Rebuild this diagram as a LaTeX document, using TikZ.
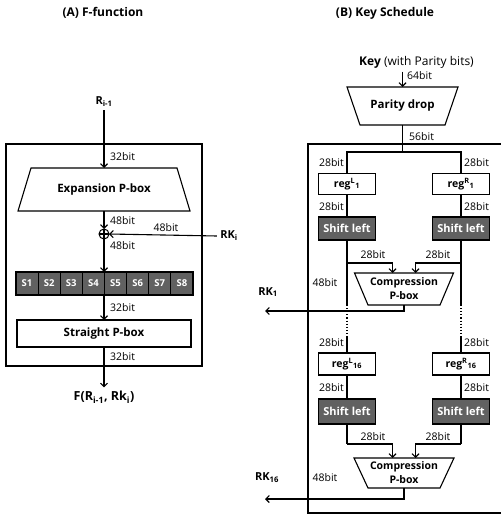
\documentclass[tikz,border=0pt]{standalone}
\usepackage{fontspec}
\setmainfont{Open Sans}
\usetikzlibrary{arrows.meta,positioning,calc}

% trapezoid outlines round a plain (undrawn) node
\newcommand{\widebottom}[2]{\draw[boxline] (#1.south west) -- (#1.south east)
  -- ([xshift=-#2]#1.north east) -- ([xshift=#2]#1.north west) -- cycle;}
\newcommand{\narrowbottom}[2]{\draw[boxline] (#1.north west) -- (#1.north east)
  -- ([xshift=-#2]#1.south east) -- ([xshift=#2]#1.south west) -- cycle;}

\tikzset{
  boxline/.style={line width=1.1pt},
  pbox/.style={inner sep=0pt,outer sep=0pt,font=\fontsize{11.5}{14}\selectfont\bfseries,align=center},
  plain/.style={draw,line width=1.1pt,fill=white,inner sep=0pt,outer sep=0pt,
                font=\fontsize{11.5}{13}\selectfont\bfseries},
  dark/.style={plain,fill=black!62,text=white!90,font=\fontsize{11}{13}\selectfont\bfseries},
  regbox/.style={plain,font=\fontsize{10.5}{12}\selectfont\bfseries},
  sbox/.style={dark,minimum width=22.1pt,minimum height=23pt,font=\fontsize{9.5}{11}\selectfont\bfseries},
  hdr/.style={font=\fontsize{11}{13}\selectfont\bfseries},
  title/.style={font=\fontsize{12}{14}\selectfont\bfseries},
  bits/.style={font=\fontsize{10.5}{12}\selectfont,inner sep=1pt},
  flow/.style={line width=1.1pt,-{Straight Barb[length=3.5pt,width=7pt]}},
  wire/.style={line width=1.1pt},
  frame/.style={line width=1.3pt},
  xorc/.style={circle,draw,line width=1pt,minimum size=10pt,inner sep=0pt,outer sep=0pt}
}

\begin{document}
\begin{tikzpicture}[x=1pt,y=-1pt]
\useasboundingbox (0,0) rectangle (500,518);

% (A) F-function
\node[title] (ttlA) at (103,13) {(A) F-function};
\draw[frame] (6,144) rectangle (202,366);
\node[hdr] (ri) at (104,102) {R\textsubscript{i-1}};
\node[pbox,minimum width=172pt,minimum height=43pt] (exp) at (104,189.5) {Expansion P-box};
\widebottom{exp}{13pt}
\node[xorc] (xor) at (104,234) {};
\draw[wire] (xor.north) -- (xor.south) (xor.west) -- (xor.east);
\node[hdr] (rki) at (229,236) {RK\textsubscript{i}};
\foreach \k in {1,...,8}
  \node[sbox] (s\k) at ({16+22.125*(\k-0.5)},283.5) {S\k};
\node[plain,minimum width=174pt,minimum height=27pt] (spb) at (104,333.5) {Straight P-box};
\node[hdr,font=\fontsize{12.5}{14}\selectfont\bfseries] (fout) at (104,397) {F(R\textsubscript{i-1}, Rk\textsubscript{i})};

\draw[flow] (ri) -- (exp.north);
\draw[flow] (exp.south) -- (xor.north);
\draw[flow] (rki.west) -- (xor.east);
\draw[flow] (xor.south) -- (xor |- s1.north);
\draw[flow] (xor |- s1.south) -- (spb.north);
\draw[flow] (spb.south) -- (fout.north);

\node[bits,anchor=west] (bA1) at (109,157) {32bit};
\node[bits,anchor=west] (bA2) at (109,221) {48bit};
\node[bits] (bA3) at (166,228) {48bit};
\node[bits,anchor=west] (bA4) at (109,246) {48bit};
\node[bits,anchor=west] (bA5) at (109,308) {32bit};
\node[bits,anchor=west] (bA6) at (109,357) {32bit};

% (B) Key Schedule
\node[title] (ttlB) at (385,13) {(B) Key Schedule};
\node[font=\fontsize{12}{14}\selectfont] (key) at (416.5,62) {\textbf{Key} (with Parity bits)};
\node[pbox,minimum width=111pt,minimum height=38pt] (pd) at (402.5,106) {Parity drop};
\narrowbottom{pd}{13pt}
\draw[flow] (key.south -| pd) -- (pd.north);
\draw[frame] (501,144) -- (308,144) -- (308,513) -- (501,513);
\coordinate (split) at (402.5,152);

\node[regbox,minimum width=57pt,minimum height=21pt] (regL1) at (347,184) {reg\textsuperscript{L}\textsubscript{1}};
\node[regbox,minimum width=57pt,minimum height=21pt] (regR1) at (461,184) {reg\textsuperscript{R}\textsubscript{1}};
\node[dark,minimum width=57pt,minimum height=23pt] (shL1) at (347,228.5) {Shift left};
\node[dark,minimum width=57pt,minimum height=23pt] (shR1) at (461,228.5) {Shift left};
\node[pbox,font=\fontsize{10.5}{14}\selectfont\bfseries,minimum width=99pt,minimum height=32pt] (cmp1) at (404,289) {Compression\\P-box};
\narrowbottom{cmp1}{13.5pt}

\node[regbox,minimum width=57pt,minimum height=22pt] (regL16) at (347,364) {reg\textsuperscript{L}\textsubscript{16}};
\node[regbox,minimum width=57pt,minimum height=22pt] (regR16) at (461,364) {reg\textsuperscript{R}\textsubscript{16}};
\node[dark,minimum width=57pt,minimum height=25pt] (shL16) at (347,411.5) {Shift left};
\node[dark,minimum width=57pt,minimum height=25pt] (shR16) at (461,411.5) {Shift left};
\node[pbox,font=\fontsize{10.5}{14}\selectfont\bfseries,minimum width=100pt,minimum height=30pt] (cmp16) at (404,473) {Compression\\P-box};
\narrowbottom{cmp16}{14pt}

\node[hdr] (rk1) at (268,292) {RK\textsubscript{1}};
\node[hdr] (rk16) at (267,478) {RK\textsubscript{16}};
\coordinate (out1) at (265,311);
\coordinate (out16) at (265,499);
\coordinate (turnL1) at (347,263);
\coordinate (turnR1) at (461,263);
\coordinate (turnL16) at (347,444);
\coordinate (turnR16) at (461,444);
\coordinate (dotL1) at (347,305);
\coordinate (dotL2) at (347,337);
\coordinate (dotR1) at (461,305);
\coordinate (dotR2) at (461,337);

\draw[wire] (pd.south) -- (split);
\draw[wire] (regL1.north) |- (split) -| (regR1.north);
\draw[wire] (regL1) -- (shL1);
\draw[wire] (regR1) -- (shR1);
\draw[wire] (shL1.south) -- (dotL1);
\draw[wire] (shR1.south) -- (dotR1);
\draw[wire,dotted] (dotL1) -- (dotL2);
\draw[wire,dotted] (dotR1) -- (dotR2);
\draw[wire] (dotL2) -- (regL16.north);
\draw[wire] (dotR2) -- (regR16.north);
\draw[flow] (turnL1) -| ([xshift=-11.5pt]cmp1.north);
\draw[flow] (turnR1) -| ([xshift=11.5pt]cmp1.north);
\draw[flow] (cmp1.south) |- (out1);

\draw[wire] (regL16) -- (shL16);
\draw[wire] (regR16) -- (shR16);
\draw[wire] (shL16.south) -- (turnL16);
\draw[wire] (shR16.south) -- (turnR16);
\draw[flow] (turnL16) -| ([xshift=-11.5pt]cmp16.north);
\draw[flow] (turnR16) -| ([xshift=11.5pt]cmp16.north);
\draw[flow] (cmp16.south) |- (out16);

\node[bits,anchor=west] (bB1) at (406,76) {64bit};
\node[bits,anchor=west] (bB2) at (408,137) {56bit};
\foreach \y/\n in {163/a,207/b,343/c,388/d}{
  \node[bits,anchor=east] (lb\n) at (345,\y) {28bit};
  \node[bits,anchor=west] (rb\n) at (463,\y) {28bit};
}
\foreach \y/\n in {255/a,437/b}{
  \node[bits] (hl\n) at (373,\y) {28bit};
  \node[bits] (hr\n) at (438,\y) {28bit};
}
\node[bits] (bB3) at (325,283) {48bit};
\node[bits] (bB4) at (325,478) {48bit};
\end{tikzpicture}
\end{document}
